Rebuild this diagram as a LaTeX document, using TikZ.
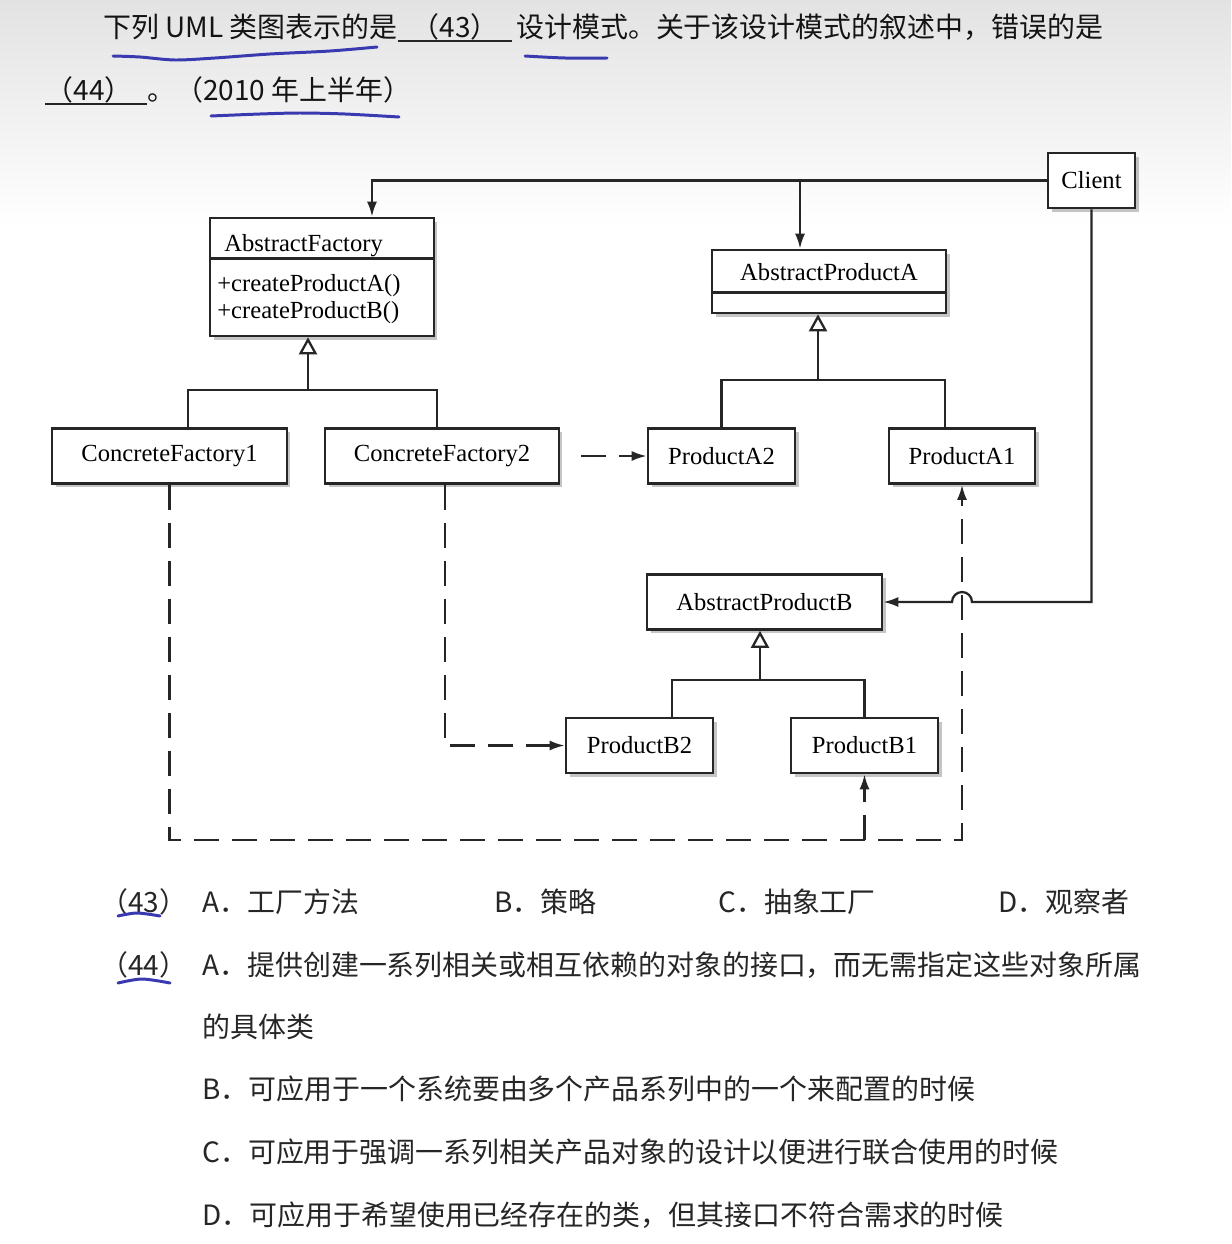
\documentclass[tikz,border=0pt]{standalone}
\usepackage{fontspec}
\setmainfont{Liberation Serif}
\newfontfamily\cjk{Noto Sans CJK SC}
\usepackage{tikz}
\usetikzlibrary{arrows.meta,shadows}
\definecolor{pen}{HTML}{3A3AB0}

\begin{document}
\begin{tikzpicture}[x=0.02cm,y=-0.02cm,
    cls/.style={draw=black!85,line width=1.5pt,fill=white,inner sep=0pt,
      minimum height=1.1cm,font=\fontsize{14}{16}\selectfont,
      drop shadow={shadow xshift=2pt,shadow yshift=-2pt,fill=black!45,opacity=0.5}},
    lbl/.style={inner sep=0pt,anchor=base west,font=\fontsize{14}{16}\selectfont},
    wire/.style={draw=black!85,line width=1.3pt},
    gen/.style={wire,-{Triangle[open,length=0.34cm,width=0.36cm]}},
    assoc/.style={wire,-{Latex[length=0.3cm,width=0.2cm]}},
    dep/.style={assoc,dash pattern=on 0.5cm off 0.26cm},
    txt/.style={inner sep=0pt,anchor=base west,text=black!85,
      font=\cjk\fontsize{15.9}{18}\selectfont},
    head/.style={txt,text=black!92},
    hand/.style={draw=pen,line width=1.7pt,line cap=round}]
  \useasboundingbox (0,0) rectangle (1231,1244);
  \fill[white] (0,0) rectangle (1231,1244);
  \shade[top color=black!11,bottom color=white] (0,0) rectangle (1231,225);

  % question text
  \node[head] (l1a) at (103,37) {下列 UML 类图表示的是};
  \node[head,anchor=base] (b43) at (455,37) {（43）};
  \draw[black!85,line width=1.2pt] (398,41) -- (512,41);
  \node[head] (l1b) at (516,37) {设计模式。关于该设计模式的叙述中，错误的是};
  \node[head,anchor=base] (b44) at (89,100) {（44）};
  \draw[black!85,line width=1.2pt] (45,104) -- (147,104);
  \node[head] (l2) at (147,100) {。（2010 年上半年）};

  % classes
  \node[cls,minimum width=1.74cm] (client) at (1091.5,180.5) {Client};
  \node[cls,minimum width=4.48cm,minimum height=2.36cm] (absfac) at (322,277) {};
  \draw[draw=black!85,line width=1.5pt] ([yshift=-0.84cm]absfac.north west) -- ([yshift=-0.84cm]absfac.north east);
  \node[lbl] (aftitle) at (224,251) {AbstractFactory};
  \node[lbl] (afopa) at (217,291) {+createProductA()};
  \node[lbl] (afopb) at (217,318) {+createProductB()};
  \node[cls,minimum width=4.68cm,minimum height=1.26cm] (absA) at (829,281.5) {};
  \draw[draw=black!85,line width=1.5pt] ([yshift=-0.88cm]absA.north west) -- ([yshift=-0.88cm]absA.north east);
  \node[inner sep=0pt,font=\fontsize{14}{16}\selectfont] (atitle) at (829,272) {AbstractProductA};
  \node[cls,minimum width=4.7cm] (cf1) at (169.5,456) {ConcreteFactory1};
  \node[cls,minimum width=4.68cm] (cf2) at (442,456) {ConcreteFactory2};
  \node[cls,minimum width=2.94cm] (pA2) at (721.5,456) {ProductA2};
  \node[cls,minimum width=2.92cm] (pA1) at (962,456) {ProductA1};
  \node[cls,minimum width=4.7cm] (absB) at (764.5,602) {AbstractProductB};
  \node[cls,minimum width=2.94cm] (pB2) at (639.5,745.5) {ProductB2};
  \node[cls,minimum width=2.94cm] (pB1) at (864.5,745.5) {ProductB1};

  % client associations
  \coordinate (tapF) at ([xshift=1cm]absfac.north);
  \coordinate (tapA) at ([xshift=-0.58cm]absA.north);
  \coordinate (hop) at (972,602);
  \draw[assoc] (client.west) -| (tapF);
  \draw[assoc] (tapA |- client.west) -- (tapA);
  \draw[assoc] (client.south) |- (hop) arc[start angle=0,end angle=180,radius=0.2cm] -- (absB.east);

  % inheritance
  \coordinate (jF) at (308,390);
  \coordinate (jA) at (818,380);
  \coordinate (jB) at (760,680);
  \draw[gen] (jF) -- (jF |- absfac.south);
  \draw[wire] ([xshift=0.37cm]cf1.north) |- (jF) -| ([xshift=-0.1cm]cf2.north);
  \draw[gen] (jA) -- (jA |- absA.south);
  \draw[wire] (pA2.north) |- (jA) -| ([xshift=-0.34cm]pA1.north);
  \draw[gen] (jB) -- (jB |- absB.south);
  \draw[wire] ([xshift=0.65cm]pB2.north) |- (jB) -| (pB1.north);

  % dependencies
  \coordinate (base) at (0,840);
  \draw[dep] ([xshift=0.42cm]cf2.east) -- (pA2.west);
  \draw[dep] ([xshift=0.06cm]cf2.south) |- (pB2.west);
  \draw[dep] (cf1.south) |- (pA1.south |- base) -- (pA1.south);
  \draw[dep] (pB1.south |- base) -- (pB1.south);

  % options
  \node[txt] (q43) at (100,912) {（43）};
  \node[txt] (q43a) at (202,912) {A．工厂方法};
  \node[txt] (q43b) at (494,912) {B．策略};
  \node[txt] (q43c) at (718,912) {C．抽象工厂};
  \node[txt] (q43d) at (998,912) {D．观察者};
  \node[txt] (q44) at (100,975) {（44）};
  \node[txt] (q44a) at (202,975) {A．提供创建一系列相关或相互依赖的对象的接口，而无需指定这些对象所属};
  \node[txt] (q44a2) at (202,1037) {的具体类};
  \node[txt] (q44b) at (202,1099) {B．可应用于一个系统要由多个产品系列中的一个来配置的时候};
  \node[txt] (q44c) at (202,1162) {C．可应用于强调一系列相关产品对象的设计以便进行联合使用的时候};
  \node[txt] (q44d) at (202,1225) {D．可应用于希望使用已经存在的类，但其接口不符合需求的时候};

  % pen marks
  \draw[hand] plot[smooth] coordinates {(113,56) (140,57) (175,60) (215,58) (270,54) (330,51) (377,47)};
  \draw[hand] plot[smooth] coordinates {(525,56) (565,58) (607,58)};
  \draw[hand] plot[smooth] coordinates {(211,116) (260,114) (300,113) (345,114) (399,117)};
  \draw[hand] plot[smooth] coordinates {(118,916) (137,913) (160,916)};
  \draw[hand] plot[smooth] coordinates {(118,983) (142,979) (170,983)};
\end{tikzpicture}
\end{document}
